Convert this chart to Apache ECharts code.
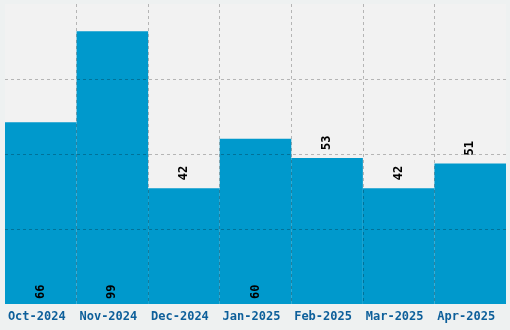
<!DOCTYPE html>
<html><head><meta charset="utf-8">
<script src="https://cdn.jsdelivr.net/npm/echarts@6/dist/echarts.min.js"></script>
<style>html,body{margin:0;padding:0;background:#eef1f1}#c{width:510px;height:330px}</style>
</head><body><div id="c"></div>
<script>
const categories = ['Oct-2024','Nov-2024','Dec-2024','Jan-2025','Feb-2025','Mar-2025','Apr-2025'];
const values = [66, 99, 42, 60, 53, 42, 51];

const chart = echarts.init(document.getElementById('c'), null, {renderer:'canvas'});
const gridColor = 'rgba(0,0,0,0.25)';
chart.setOption({
  animation: false,
  backgroundColor: '#eef1f1',
  grid: {left: 5, right: 4, top: 4, bottom: 26, show: true, backgroundColor: '#f2f2f2', borderWidth: 0},
  xAxis: {
    type: 'category', data: categories, z: 5,
    axisLine: {show: false}, axisTick: {show: false},
    splitLine: {show: true, showMinLine: false, showMaxLine: false, lineStyle: {color: gridColor, type: [3, 3], width: 1}},
    axisLabel: {color: '#0d5f9a', fontFamily: 'DejaVu Sans Mono', fontWeight: 'bold', fontSize: 12, margin: 7, interval: 0,
      padding: [0, 8, 0, 0]}
  },
  yAxis: {
    type: 'value', min: 0, max: 108.9, interval: 27.225, z: 5,
    axisLine: {show: false}, axisTick: {show: false}, axisLabel: {show: false},
    splitLine: {show: true, showMinLine: false, showMaxLine: false, lineStyle: {color: gridColor, type: [3, 3], width: 1}}
  },
  series: [{
    type: 'bar', barCategoryGap: '0%',
    itemStyle: {color: '#0099cc'},
    data: values.map(v => ({
      value: v,
      label: v >= 55
        ? {position: 'insideBottom', distance: 5}
        : {position: 'top', distance: 8}
    })),
    label: {show: true, rotate: 90, color: '#000', fontFamily: 'DejaVu Sans Mono', fontWeight: 'bold', fontSize: 12,
      align: 'left', verticalAlign: 'middle'}
  }]
});
</script></body></html>
